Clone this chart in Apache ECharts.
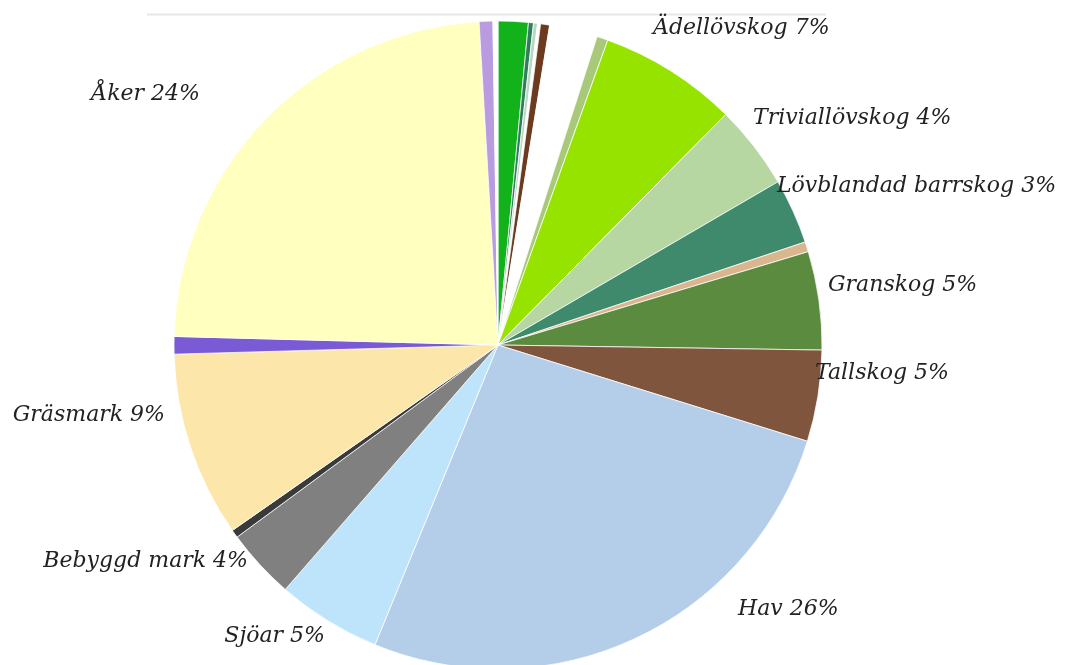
<!DOCTYPE html>
<html>
<head>
<meta charset="utf-8">
<script src="https://cdn.jsdelivr.net/npm/echarts@6/dist/echarts.min.js"></script>
<style>
html,body{margin:0;padding:0;background:#fff;}
#chart{width:1085px;height:665px;}
</style>
</head>
<body>
<div id="chart"></div>
<script>
// Slices in clockwise order from 12 o'clock (percent of total area)
const categories = ['Lövskog på myr', 'Barrskog på myr', 'Blandskog på myr', 'Övrigt', 'Hygge', 'Ospecificerat', 'Blandskog',
  'Ädellövskog', 'Triviallövskog', 'Lövblandad barrskog', 'Barrskog på berg', 'Granskog', 'Tallskog',
  'Hav', 'Sjöar', 'Bebyggd mark', 'Vägar', 'Gräsmark', 'Vattendrag', 'Åker', 'Myr', 'Övrig mark'];
const values = [1.5, 0.25, 0.2, 0.15, 0.45, 2.4, 0.55,
  6.9, 4.2, 3.25, 0.5, 4.9, 4.55,
  26.4, 5.2, 3.5, 0.4, 9.25, 0.87, 23.65, 0.68, 0.25];
const labelled = ['Ädellövskog', 'Triviallövskog', 'Lövblandad barrskog', 'Granskog', 'Tallskog',
  'Hav', 'Sjöar', 'Bebyggd mark', 'Gräsmark', 'Åker'];

const palette = ['#12b21a', '#2e7d5b', '#b9d8c2', '#ffffff', '#6b3a1f', '#ffffff', '#a9c97a',
  '#97e300', '#b6d6a2', '#3f8a6c', '#dab68e', '#5b8b3e', '#80553e',
  '#b4cde8', '#bee4fb', '#808080', '#3a3a3a', '#fde6aa', '#7b5ad6', '#ffffc0', '#b99be0', '#ffffff'];

// label placement (anchor x, y, alignment)
const labelPlace = {
  'Ädellövskog': [653, 28, 'left'],
  'Triviallövskog': [753, 118, 'left'],
  'Lövblandad barrskog': [777, 186, 'left'],
  'Granskog': [828, 285, 'left'],
  'Tallskog': [815, 373, 'left'],
  'Hav': [738, 609, 'left'],
  'Sjöar': [325, 636, 'right'],
  'Bebyggd mark': [248, 561, 'right'],
  'Gräsmark': [165, 415, 'right'],
  'Åker': [200, 94, 'right']
};

const chart = echarts.init(document.getElementById('chart'), null, {renderer: 'canvas'});
const data = categories.map((c, i) => ({
  name: c,
  value: values[i],
  itemStyle: {color: palette[i]},
  label: {show: labelled.indexOf(c) >= 0}
}));

chart.setOption({
  animation: false,
  backgroundColor: '#ffffff',
  graphic: [{
    type: 'line',
    shape: {x1: 147, y1: 14.5, x2: 826, y2: 14.5},
    style: {stroke: '#e8e8e8', lineWidth: 2},
    silent: true
  }],
  series: [{
    type: 'pie',
    center: [498, 345],
    radius: [0, 324],
    startAngle: 90,
    clockwise: true,
    avoidLabelOverlap: false,
    minAngle: 0,
    data: data,
    itemStyle: {borderColor: 'rgba(255,255,255,0.75)', borderWidth: 1},
    label: {
      position: 'outside',
      formatter: p => p.name + ' ' + Math.round(p.percent) + '%',
      fontFamily: 'DejaVu Serif',
      fontStyle: 'italic',
      fontSize: 22,
      color: '#222222'
    },
    labelLine: {show: false},
    labelLayout: function (params) {
      const name = categories[params.dataIndex];
      const p = labelPlace[name];
      if (!p) return {};
      return {x: p[0], y: p[1], align: p[2], verticalAlign: 'middle'};
    },
    emphasis: {disabled: true}
  }]
});
</script>
</body>
</html>
